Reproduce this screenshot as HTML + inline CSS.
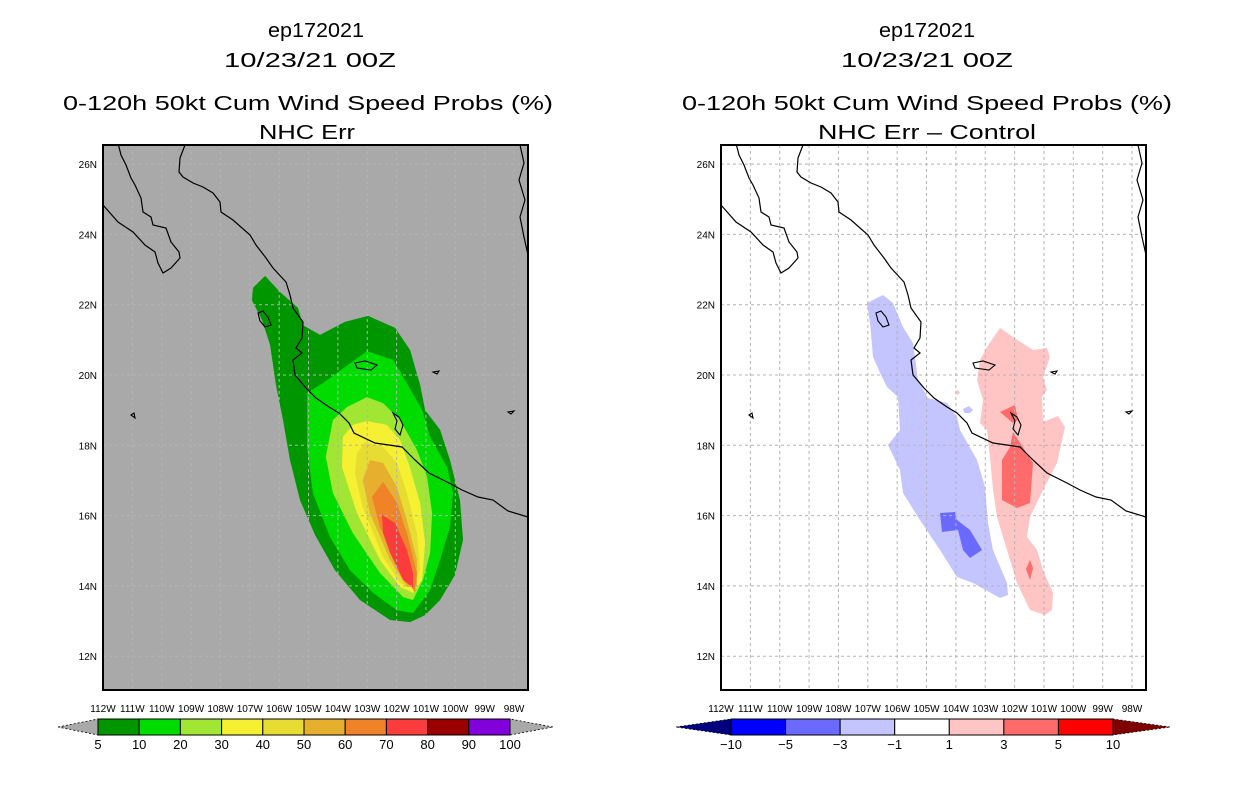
<!DOCTYPE html>
<html><head><meta charset="utf-8"><style>
html,body{margin:0;padding:0;background:#fff;}
svg{display:block;font-family:"Liberation Sans",sans-serif;}
</style></head><body>
<svg id="s" width="1236" height="800" viewBox="0 0 1236 800" xmlns="http://www.w3.org/2000/svg">
<defs>
<clipPath id="cl"><rect x="103" y="145" width="425" height="545"/></clipPath>
<clipPath id="cr"><rect x="721" y="145" width="425" height="545"/></clipPath>
</defs>
<g font-size="20" text-anchor="middle" fill="#000">
<text x="316" y="37" textLength="96" lengthAdjust="spacingAndGlyphs">ep172021</text>
<text x="310" y="67" textLength="172" lengthAdjust="spacingAndGlyphs">10/23/21 00Z</text>
<text x="308" y="110" textLength="490" lengthAdjust="spacingAndGlyphs">0-120h 50kt Cum Wind Speed Probs (%)</text>
<text x="307" y="139" textLength="96" lengthAdjust="spacingAndGlyphs">NHC Err</text>
</g>
<g font-size="20" text-anchor="middle" fill="#000">
<text x="927" y="37" textLength="96" lengthAdjust="spacingAndGlyphs">ep172021</text>
<text x="927" y="67" textLength="172" lengthAdjust="spacingAndGlyphs">10/23/21 00Z</text>
<text x="927" y="110" textLength="490" lengthAdjust="spacingAndGlyphs">0-120h 50kt Cum Wind Speed Probs (%)</text>
<text x="927" y="139" textLength="218" lengthAdjust="spacingAndGlyphs">NHC Err – Control</text>
</g>
<rect x="103" y="145" width="425" height="545" fill="#a9a9a9"/>
<rect x="721" y="145" width="425" height="545" fill="#fff"/>
<g id="lf" clip-path="url(#cl)"></g>
<g id="rf" clip-path="url(#cr)"></g>
<g id="lg" clip-path="url(#cl)"></g>
<g id="rg" clip-path="url(#cr)"></g>
<g id="lc" clip-path="url(#cl)"></g>
<g id="rc" clip-path="url(#cr)"></g>
<rect x="103" y="145" width="425" height="545" fill="none" stroke="#000" stroke-width="2"/>
<rect x="721" y="145" width="425" height="545" fill="none" stroke="#000" stroke-width="2"/>
<g id="ax"></g>
<g id="cb"></g>
</svg>
<script>
const NS="http://www.w3.org/2000/svg";
const lonTicks=[112,111,110,109,108,107,106,105,104,103,102,101,100,99,98];
const latTicks=[26,24,22,20,18,16,14,12];
// left panel contour levels (lon, lat)
const levels=[5,10,20,30,40,50,60,70];
const levelColors=["#009600","#00dc00","#a0e632","#f5f032","#e6dc32","#e6af2d","#f08228","#fa3c3c"];
const c5=[[-106.89,22.48],[-106.48,22.82],[-105.97,22.36],[-105.36,21.91],[-105.19,21.42],[-104.61,21.14],[-103.76,21.51],[-102.97,21.68],[-102.05,21.34],[-101.54,20.71],[-101.2,19.72],[-101.03,19.0],[-100.52,18.44],[-100.18,17.58],[-99.84,16.44],[-99.74,15.31],[-100.01,14.31],[-100.52,13.6],[-101.03,13.17],[-101.54,12.97],[-102.22,13.03],[-103.25,13.6],[-104.1,14.45],[-104.78,15.45],[-105.29,16.44],[-105.63,17.58],[-105.87,18.72],[-106.11,19.72],[-106.31,20.85],[-106.58,21.56],[-106.93,22.13]];
const c10=[[-105.05,19.49],[-104.51,19.77],[-103.01,20.68],[-102.12,20.43],[-101.65,19.77],[-101.13,19.0],[-100.86,18.24],[-100.28,17.38],[-100.08,16.64],[-100.18,15.68],[-100.52,14.74],[-100.86,13.88],[-101.44,13.23],[-101.99,13.31],[-102.8,13.8],[-103.59,14.45],[-104.27,15.39],[-104.85,16.64],[-105.05,17.95]];
const c20=[[-103.01,19.37],[-102.46,19.2],[-101.88,18.72],[-101.31,17.87],[-100.96,17.1],[-100.79,16.07],[-100.86,14.94],[-101.1,14.17],[-101.44,13.6],[-101.78,13.68],[-102.57,14.37],[-103.49,15.5],[-104.17,16.64],[-104.41,17.67],[-104.17,18.72],[-103.69,19.09]];
const c30=[[-103.01,18.69],[-102.33,18.58],[-101.88,18.15],[-101.55,17.38],[-101.2,16.36],[-101.03,15.22],[-101.13,14.17],[-101.44,13.8],[-101.88,13.97],[-102.57,14.74],[-103.35,16.07],[-103.86,17.38],[-103.83,18.24],[-103.49,18.58]];
const c40=[[-103.08,18.09],[-102.46,17.95],[-101.99,17.5],[-101.65,16.64],[-101.31,15.5],[-101.2,14.45],[-101.44,13.94],[-101.88,14.08],[-102.46,14.82],[-103.15,16.24],[-103.42,17.21],[-103.35,17.78]];
const c50=[[-102.91,17.58],[-102.46,17.5],[-101.99,16.81],[-101.65,15.87],[-101.31,14.74],[-101.31,13.97],[-101.65,13.97],[-102.22,14.74],[-102.91,16.07],[-103.15,17.01]];
const c60=[[-102.46,16.96],[-101.99,16.36],[-101.65,15.5],[-101.31,14.37],[-101.37,13.8],[-101.88,14.54],[-102.57,15.68],[-102.84,16.53]];
const c70=[[-102.5,16.02],[-102.05,15.79],[-101.65,15.02],[-101.44,14.37],[-101.44,13.94],[-101.78,14.17],[-102.22,14.94],[-102.46,15.5]];
const leftContours=[c5,c10,c20,c30,c40,c50,c60,c70];
// right panel difference regions (map-relative pixel outlines)
const diffLightBlue=[[146,158],[162,150],[172,158],[182,182],[192,198],[197,235],[207,253],[226,258],[236,272],[239,285],[256,315],[264,342],[267,378],[272,405],[286,438],[287,450],[279,453],[252,438],[236,432],[219,405],[197,372],[182,348],[179,325],[167,300],[179,285],[177,252],[166,242],[161,232],[152,212],[149,178]];
const diffBlueBlob=[[242,264],[248,261],[252,265],[249,268],[243,268]];
const diffDarkBlue=[[219,368],[234,367],[236,375],[249,385],[261,405],[249,413],[242,405],[237,385],[221,387]];
const diffPink=[[266,202],[279,183],[292,192],[312,205],[326,203],[329,212],[322,232],[326,245],[321,252],[322,277],[337,271],[344,282],[336,318],[322,345],[309,372],[306,392],[316,405],[322,425],[332,448],[331,465],[324,470],[309,465],[296,438],[286,405],[276,372],[272,345],[269,312],[266,285],[259,278],[262,255],[256,235],[259,215]];
const diffPinkDot=[[234,247],[237,245],[239,248],[236,250]];
const diffRedTop=[[279,267],[294,260],[297,275],[292,278]];
const diffRedMain=[[292,287],[312,318],[309,358],[296,363],[281,355],[281,315],[289,302]];
const diffRedDiamond=[[309,415],[312,423],[309,435],[305,424]];
// coastline (map-relative pixel outlines)
const coastBaja=[[0,60],[15,77],[30,87],[42,100],[52,107],[55,118],[60,128],[68,123],[77,113],[76,107],[68,97],[63,83],[50,80],[48,72],[40,67],[38,53],[32,40],[28,33],[23,20],[18,10],[16,2],[15,0]];
const coastMain=[[82,0],[77,13],[76,27],[80,32],[90,38],[100,42],[110,48],[117,57],[118,67],[130,75],[147,90],[153,100],[163,113],[170,123],[183,137],[187,150],[190,163],[200,177],[199,193],[193,203],[199,208],[190,215],[192,230],[203,243],[213,253],[226,262],[236,268],[246,278],[251,288],[272,298],[286,300],[299,302],[312,315],[326,328],[346,338],[359,345],[375,352],[390,355],[405,366],[425,372]];
const coastEast=[[417,0],[421,18],[416,35],[422,55],[417,72],[421,92],[425,110]];
const islands=[[[155,168],[160,166],[165,172],[168,180],[162,182],[157,176]],[[252,218],[262,216],[274,220],[268,225],[254,223]],[[330,227],[336,226],[334,229]],[[28,270],[31,268],[32,273]],[[405,267],[411,266],[408,269]],[[290,268],[296,272],[300,280],[297,290],[292,284],[294,276]]];

const L=103,R=721,T=145,W=425,H=545;
function xL(lon){return L+(lon+112)*29.36;}
function yL(lat){return 375-(lat-20)*35.15;}
function poly(pts){return pts.map(p=>p.join(',')).join(' ');}
function mk(tag,attrs,parent){const e=document.createElementNS(NS,tag);for(const k in attrs)e.setAttribute(k,attrs[k]);parent.appendChild(e);return e;}

const lf=document.getElementById('lf');
leftContours.forEach((c,i)=>{
  const e=mk('polygon',{points:poly(c.map(p=>[xL(p[0]).toFixed(1),yL(p[1]).toFixed(1)])),fill:levelColors[i]},lf);
  
  
});
const rf=document.getElementById('rf');
function rpoly(pts,fill,name){
  const e=mk('polygon',{points:poly(pts.map(p=>[R+p[0],T+p[1]])),fill:fill},rf);
  
  
}
rpoly(diffLightBlue,"#c4c4ff","diff-region-minus1");
rpoly(diffBlueBlob,"#c4c4ff","diff-blob-minus1");
rpoly(diffDarkBlue,"#6a6aff","diff-region-minus3");
rpoly(diffPink,"#ffc4c4","diff-region-plus1");
rpoly(diffPinkDot,"#ffc4c4","diff-dot-plus1");
rpoly(diffRedTop,"#ff6a6a","diff-region-plus3-north");
rpoly(diffRedMain,"#ff6a6a","diff-region-plus3");
rpoly(diffRedDiamond,"#ff6a6a","diff-region-plus3-south");

// grids
[[document.getElementById('lg'),L],[document.getElementById('rg'),R]].forEach(([g,x0],k)=>{
  lonTicks.forEach(t=>{const x=x0+(112-t)*29.36;
    const e=mk('line',{x1:x,x2:x,y1:T,y2:T+H,stroke:"#b4b4b4",'stroke-width':1,'stroke-dasharray':'3,3'},g);
    
    });
  latTicks.forEach(t=>{const y=yL(t);
    const e=mk('line',{x1:x0,x2:x0+W,y1:y,y2:y,stroke:"#b4b4b4",'stroke-width':1,'stroke-dasharray':'3,3'},g);
    
    });
});
// coast
[[document.getElementById('lc'),L],[document.getElementById('rc'),R]].forEach(([g,x0])=>{
  [coastBaja,coastMain,coastEast].forEach(c=>{
    const e=mk('polyline',{points:poly(c.map(p=>[x0+p[0],T+p[1]])),fill:'none',stroke:'#000','stroke-width':1.2},g);
    
    });
  islands.forEach(c=>{
    const e=mk('polygon',{points:poly(c.map(p=>[x0+p[0],T+p[1]])),fill:'none',stroke:'#000','stroke-width':1.1},g);
    
    });
});
// axis labels
const ax=document.getElementById('ax');
[L,R].forEach(x0=>{
  lonTicks.forEach(t=>{
    const e=mk('text',{x:x0+(112-t)*29.36,y:712,'font-size':10,'text-anchor':'middle'},ax);
    e.textContent=t+'W';
    
    });
  latTicks.forEach(t=>{
    const e=mk('text',{x:x0-6,y:yL(t)+4,'font-size':10,'text-anchor':'end'},ax);
    e.textContent=t+'N';
    
    });
});
// colorbars
const cb=document.getElementById('cb');
const lcbColors=["#009600","#00dc00","#a0e632","#f5f032","#e6dc32","#e6af2d","#f08228","#fa3c3c","#9a0000","#8200dc"];
const lcbLabels=["5","10","20","30","40","50","60","70","80","90","100"];
const rcbColors=["#0000ff","#6a6aff","#c4c4ff","#ffffff","#ffc4c4","#ff6a6a","#ff0000"];
const rcbLabels=["-10","-5","-3","-1","1","3","5","10"];
function colorbar(x0,x1,tipL,tipR,colors,labels,endL,endR,name){
  const y0=719,y1=735,w=(x1-x0)/colors.length;
  let e=mk('polygon',{points:`${tipL},727 ${x0},${y0} ${x0},${y1}`,fill:endL,stroke:'#000','stroke-width':0.8,'stroke-dasharray':'2,2'},cb);
  
  
  e=mk('polygon',{points:`${tipR},727 ${x1},${y0} ${x1},${y1}`,fill:endR,stroke:'#000','stroke-width':0.8,'stroke-dasharray':'2,2'},cb);
  
  
  colors.forEach((c,i)=>{
    const r=mk('rect',{x:x0+i*w,y:y0,width:w,height:y1-y0,fill:c,stroke:'#000','stroke-width':1},cb);
    
    });
  labels.forEach((l,i)=>{
    const t=mk('text',{x:x0+i*w,y:749,'font-size':13,'text-anchor':'middle'},cb);
    t.textContent=l.replace('-','\u2212');
    
    });
}
colorbar(98,510,58,553,lcbColors,lcbLabels,"#a9a9a9","#a9a9a9","left-colorbar");
colorbar(731,1113,676,1170,rcbColors,rcbLabels,"#00007f","#7f0000","right-colorbar");
</script>
</body></html>
